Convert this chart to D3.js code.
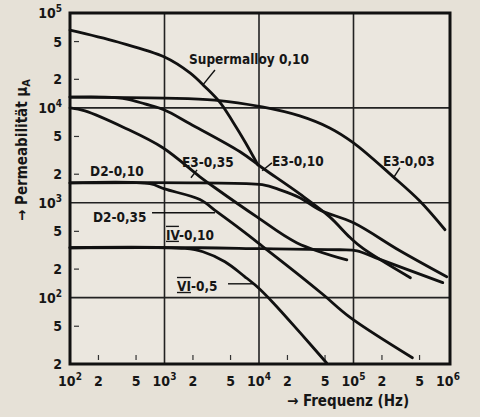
<!DOCTYPE html>
<html><head><meta charset="utf-8">
<script src="https://cdn.jsdelivr.net/npm/d3@7"></script>
<style>
body{margin:0;background:#e7e2d9;}
svg{display:block;}
text{font-family:"Liberation Sans Narrow","DejaVu Sans Condensed",sans-serif;font-weight:bold;fill:#161616;}
</style>
</head><body><svg id="c" width="480" height="417"></svg>
<script>
// ---- data ----
const xMinor = [2e2, 5e2, 2e3, 5e3, 2e4, 5e4, 2e5, 5e5];
const xTickValues = [1e2,2e2,5e2,1e3,2e3,5e3,1e4,2e4,5e4,1e5,2e5,5e5,1e6];
const xTickLabels = ["10|2","2","5","10|3","2","5","10|4","2","5","10|5","2","5","10|6"];
const yTickValues = [1e5,5e4,2e4,1e4,5e3,2e3,1e3,5e2,2e2,1e2,50,20];
const yTickLabels = ["10|5","5","2","10|4","5","2","10|3","5","2","10|2","5","2"];
const xGrid = [1e3, 1e4, 1e5];
const yGrid = [1e4, 1e3, 1e2];

const supermalloy = [[100,66000],[320,49500],[1000,34400],[1860,23400],[2700,16600],[3900,11300],[5300,7100],[7100,4400],[9750,2500]];
const e3_003 = [[100,13000],[1000,12700],[3400,12100],[10800,10250],[27000,8240],[56000,6150],[1e5,4280],[2.6e5,1900],[5e5,1050],[9.3e5,520]];
const e3_010 = [[100,13000],[235,13000],[400,12400],[620,11000],[1000,9500],[1860,6800],[6300,3450],[10800,2340],[27000,1240],[56000,710],[92000,430],[1.26e5,330],[4e5,162]];
const e3_035 = [[100,10000],[144,9300],[380,6150],[960,3800],[2370,1880],[3420,1440],[9500,710],[25000,380],[85000,250]];
const d2_010 = [[100,1620],[2400,1620],[10800,1550],[16700,1370],[27000,1130],[44000,840],[1e5,615],[3.1e5,312],[9.7e5,166]];
const d2_035 = [[100,1620],[700,1590],[1000,1400],[2370,1080],[3600,800],[6300,530],[10800,350],[27000,171],[47600,108],[92000,62],[4.2e5,23.3]];
const iv_010 = [[100,336],[2400,336],[10800,328],[72000,320],[1.09e5,312],[1.7e5,264],[8.8e5,144]];
const vi_05 = [[100,336],[1650,330],[2550,305],[4360,239],[7100,166],[9500,131],[14100,88.6],[27200,42.8],[52000,20.5]];
const curves = [supermalloy, e3_003, e3_010, e3_035, d2_010, d2_035, iv_010, vi_05];

const labels = [
  {t:"Supermalloy 0,10", f:1816, v:29040},
  {t:"E3-0,35", f:1530, v:2393},
  {t:"E3-0,10", f:13700, v:2450},
  {t:"E3-0,03", f:2.05e5, v:2450},
  {t:"D2-0,10", f:163, v:1923},
  {t:"D2-0,35", f:175, v:631},
  {t:"IV|-0,10", f:1037, v:408},
  {t:"VI|-0,5", f:1356, v:118}
];
const leaders = [
  [[3420,25100],[2550,17460]],
  [[2210,2220],[1905,1834]],
  [[13700,2635],[10800,2172]],
  [[3.1e5,2340],[2.69e5,1880]],
  [[738,785],[3420,785]],
  [[4700,140],[9080,140]]
];

// ---- layout ----
const svg = d3.select("#c");
const x = d3.scaleLog().domain([1e2,1e6]).range([70,448]);
const y = d3.scaleLog().domain([20,1e5]).range([364,13]);

svg.append("rect").attr("x",0).attr("y",0).attr("width",480).attr("height",417).attr("fill","#e6e1d7");
svg.append("rect").attr("x",70).attr("y",13).attr("width",380).attr("height",351).attr("fill","#ebe7df");

// grid
svg.append("g").selectAll("line").data(xGrid).join("line")
  .attr("x1",d=>x(d)).attr("x2",d=>x(d)).attr("y1",13).attr("y2",364)
  .attr("stroke","#222").attr("stroke-width",1.6);
svg.append("g").selectAll("line").data(yGrid).join("line")
  .attr("x1",70).attr("x2",450).attr("y1",d=>y(d)).attr("y2",d=>y(d))
  .attr("stroke","#222").attr("stroke-width",1.6);

// minor ticks inside
svg.append("g").selectAll("line").data(yTickValues.filter(v=>!yGrid.includes(v)&&v!==1e5&&v!==20)).join("line")
  .attr("x1",74).attr("x2",79).attr("y1",d=>y(d)).attr("y2",d=>y(d))
  .attr("stroke","#333").attr("stroke-width",1.2);
svg.append("g").selectAll("line").data(xMinor).join("line")
  .attr("x1",d=>x(d)).attr("x2",d=>x(d)).attr("y1",355).attr("y2",360)
  .attr("stroke","#333").attr("stroke-width",1.2);

// curves
const line = d3.line().x(d=>x(d[0])).y(d=>y(d[1])).curve(d3.curveCatmullRom.alpha(0.5));
svg.append("g").selectAll("path").data(curves).join("path")
  .attr("d",line).attr("fill","none").attr("stroke","#111").attr("stroke-width",2.8).attr("stroke-linecap","round");

// frame
svg.append("rect").attr("x",70).attr("y",13).attr("width",380).attr("height",351)
  .attr("fill","none").attr("stroke","#111").attr("stroke-width",3);

// tick labels
function tickText(g, s){
  const p = s.split("|");
  g.append("tspan").text(p[0]);
  if(p[1]) g.append("tspan").attr("dy",-6).attr("font-size",10).text(p[1]);
}
xTickValues.forEach((v,i)=>{
  const t = svg.append("text").attr("x",x(v)).attr("y",386).attr("text-anchor","middle").attr("font-size",14);
  tickText(t, xTickLabels[i]);
});
yTickValues.forEach((v,i)=>{
  const t = svg.append("text").attr("x",62).attr("y",y(v)+5).attr("text-anchor","end").attr("font-size",14);
  tickText(t, yTickLabels[i]);
});

// curve labels
labels.forEach(l=>{
  const t = svg.append("text").attr("x",x(l.f)).attr("y",y(l.v)).attr("font-size",13.5);
  const p = l.t.split("|");
  if(p.length>1){
    t.append("tspan").attr("text-decoration","overline underline").text(p[0]);
    t.append("tspan").text(p[1]);
  } else t.text(l.t);
});
leaders.forEach(p=>{
  svg.append("path").attr("d",d3.line().x(d=>x(d[0])).y(d=>y(d[1]))(p)).attr("stroke","#111").attr("stroke-width",1.4).attr("fill","none");
});

// axis titles
svg.append("text").attr("transform","translate(27,150) rotate(-90)").attr("text-anchor","middle").attr("font-size",15)
  .html('→ Permeabilität μ<tspan dy="3" font-size="11">A</tspan>');
svg.append("text").attr("x",348).attr("y",406).attr("text-anchor","middle").attr("font-size",15).text("→ Frequenz (Hz)");
</script>
</body></html>
